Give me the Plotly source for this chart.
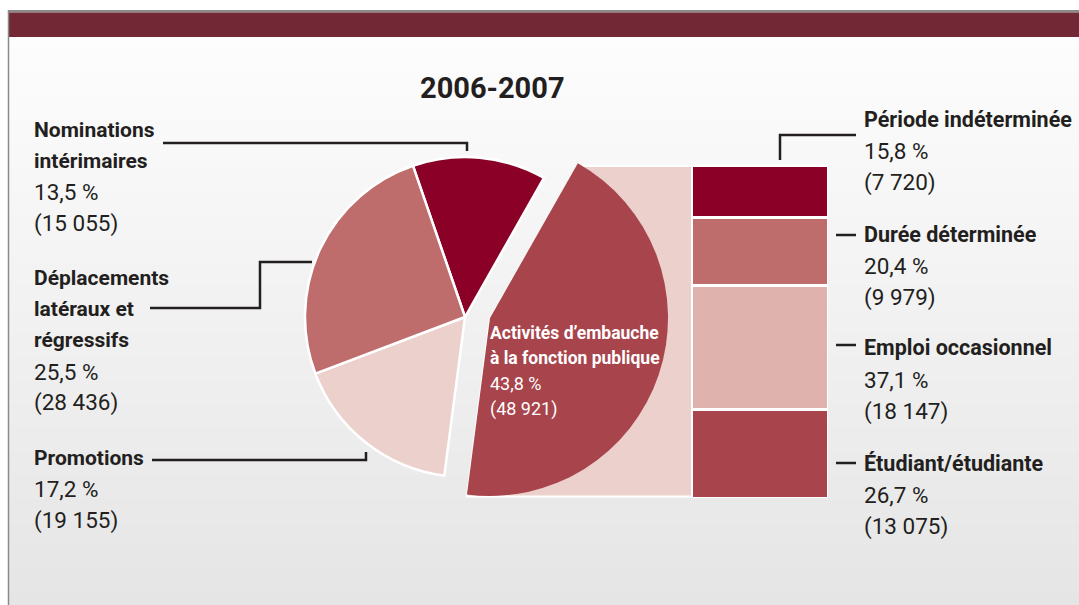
import math
import plotly.graph_objects as go

W, H = 1079, 605

# ---------------- data ----------------
title_text = "2006-2007"

pie_labels = ["Nominations<br>intérimaires",
              "Activités d’embauche<br>à la fonction publique",
              "Promotions",
              "Déplacements<br>latéraux et<br>régressifs"]
pie_counts = [15055, 48921, 19155, 28436]
pie_pcts = [13.5, 43.8, 17.2, 25.5]
pie_colors = ["#8B0026", "#A8444C", "#EBD0CB", "#BE6D6C"]

bar_labels = ["Étudiant/étudiante", "Emploi occasionnel", "Durée déterminée", "Période indéterminée"]
bar_counts = [13075, 18147, 9979, 7720]
bar_pcts = [26.7, 37.1, 20.4, 15.8]
bar_colors = ["#A8444C", "#E0B2AD", "#BE6D6C", "#8B0026"]

# ---------------- helpers ----------------
FONT = "Roboto, Liberation Sans, sans-serif"
INK = "#231F20"


def X(px):
    return px / W


def Y(py):
    return 1 - py / H


def fmt_pct(p):
    return f"{p:.1f}".replace(".", ",") + " %"


def fmt_cnt(n):
    return f"{n:,}".replace(",", " ")


def block_lines(label, pct, cnt):
    lines = [(s, True) for s in label.split("<br>")]
    lines += [(fmt_pct(pct), False), (f"({fmt_cnt(cnt)})", False)]
    return lines


# geometry (pixels)
cx1, cy1, r1 = 465, 317, 160        # main pie
cx2, cy2, r2 = 490, 318, 178        # exploded slice
rotation = -19
bar_l, bar_r, bar_t, bar_b = 691, 828, 165, 498

fig = go.Figure()

# main pie (exploded slice hidden)
main_cols = [c if i != 1 else "rgba(0,0,0,0)" for i, c in enumerate(pie_colors)]
main_line = ["white" if i != 1 else "rgba(0,0,0,0)" for i in range(4)]
fig.add_trace(go.Pie(
    labels=pie_labels, values=pie_counts, sort=False, direction="clockwise",
    rotation=rotation, textinfo="none", hoverinfo="label+percent",
    marker=dict(colors=main_cols, line=dict(color=main_line, width=2.5)),
    domain=dict(x=[X(cx1 - r1), X(cx1 + r1)], y=[Y(cy1 + r1), Y(cy1 - r1)]),
    showlegend=False,
))

# exploded slice
exp_cols = [c if i == 1 else "rgba(0,0,0,0)" for i, c in enumerate(pie_colors)]
fig.add_trace(go.Pie(
    labels=pie_labels, values=pie_counts, sort=False, direction="clockwise",
    rotation=rotation, textinfo="none", hoverinfo="label+percent",
    marker=dict(colors=exp_cols, line=dict(width=0)),
    domain=dict(x=[X(cx2 - r2), X(cx2 + r2)], y=[Y(cy2 + r2), Y(cy2 - r2)]),
    showlegend=False,
))

# stacked bar
for lab, cnt, col in zip(bar_labels, bar_counts, bar_colors):
    fig.add_trace(go.Bar(
        x=[0], y=[cnt], width=1, name=lab, marker=dict(color=col, line=dict(color="white", width=3)),
        showlegend=False, hoverinfo="name+y",
    ))

fig.update_layout(
    barmode="stack",
    width=W, height=H,
    margin=dict(l=0, r=0, t=0, b=0),
    paper_bgcolor="white", plot_bgcolor="rgba(0,0,0,0)",
    xaxis=dict(domain=[X(bar_l), X(bar_r)], range=[-0.5, 0.5], visible=False, fixedrange=True),
    yaxis=dict(domain=[Y(bar_b), Y(bar_t)], range=[0, sum(bar_counts)], visible=False, fixedrange=True),
    font=dict(family=FONT, color=INK),
)

shapes = []
# background gradient
n = 48
top, bot = 37, H
c0, c1 = 253, 229
for i in range(n):
    y0 = top + (bot - top) * i / n
    y1 = top + (bot - top) * (i + 1) / n + 0.5
    v = round(c0 + (c1 - c0) * (i + 0.5) / n)
    shapes.append(dict(type="rect", xref="paper", yref="paper", x0=X(9), x1=1, y0=Y(y1), y1=Y(y0),
                       fillcolor=f"rgb({v},{v},{v})", line=dict(width=0), layer="below"))
# header
shapes.append(dict(type="rect", xref="paper", yref="paper", x0=X(8), x1=1, y0=Y(12.5), y1=Y(10),
                   fillcolor="#8A8A8A", line=dict(width=0), layer="below"))
shapes.append(dict(type="rect", xref="paper", yref="paper", x0=X(9), x1=1, y0=Y(37), y1=Y(12.5),
                   fillcolor="#722935", line=dict(width=0), layer="below"))
shapes.append(dict(type="line", xref="paper", yref="paper", x0=X(8.5), x1=X(8.5), y0=0, y1=Y(10),
                   line=dict(color="#8A8A8A", width=1.5), layer="below"))

# connector between exploded slice and bar
tot = sum(pie_counts)
a0 = math.radians(rotation + 360 * pie_counts[0] / tot)
a1 = math.radians(rotation + 360 * (pie_counts[0] + pie_counts[1]) / tot)
tx = cx2 + r2 * math.sin(a0)
bx = cx2 + r2 * math.sin(a1)
pts = [(tx, bar_t + 1), (bar_l + 1, bar_t + 1), (bar_l + 1, bar_b - 1.5), (bx, bar_b - 1.5), (cx2, cy2)]
path = "M " + " L ".join(f"{X(a):.5f},{Y(b):.5f}" for a, b in pts) + " Z"
shapes.append(dict(type="path", xref="paper", yref="paper", path=path, fillcolor="#EBD0CB",
                   line=dict(color="white", width=2), layer="below"))


def leader(points):
    p = "M " + " L ".join(f"{X(a):.5f},{Y(b):.5f}" for a, b in points)
    shapes.append(dict(type="path", xref="paper", yref="paper", path=p,
                       line=dict(color=INK, width=2.5), layer="above"))


leader([(163, 143), (467, 143), (467, 151)])
leader([(150, 308), (260, 308), (260, 262), (312, 262)])
leader([(152, 460), (366, 460), (366, 452)])
leader([(780, 160), (780, 135), (856, 135)])
for yy in (235, 345, 463):
    leader([(836, yy), (856, yy)])

fig.update_layout(shapes=shapes)

ann = []
ann.append(dict(text=f"<b>{title_text}</b>", x=X(492), y=Y(88), xref="paper", yref="paper",
                xanchor="center", yanchor="middle", showarrow=False, font=dict(size=29, color=INK)))


def add_block(lines, x, y_first, step, size_b, size_r, color):
    for k, (txt, bold) in enumerate(lines):
        ann.append(dict(text=f"<b>{txt}</b>" if bold else txt, x=X(x), y=Y(y_first + k * step),
                        xref="paper", yref="paper", xanchor="left", yanchor="middle", align="left",
                        showarrow=False, font=dict(size=size_b if bold else size_r, color=color)))


left_first = {0: 130, 3: 278, 2: 458}
for i, y0 in left_first.items():
    add_block(block_lines(pie_labels[i], pie_pcts[i], pie_counts[i]), 32, y0, 31.2, 21, 22.5, INK)

add_block(block_lines(pie_labels[1], pie_pcts[1], pie_counts[1]), 488, 333, 25.2, 17.5, 18, "white")

right_first = {3: 119, 2: 234, 1: 348, 0: 463}
for i, y0 in right_first.items():
    add_block(block_lines(bar_labels[i], bar_pcts[i], bar_counts[i]), 862, y0, 31.5, 21.5, 22.5, INK)

fig.update_layout(annotations=ann)

fig.write_html("out.html")
